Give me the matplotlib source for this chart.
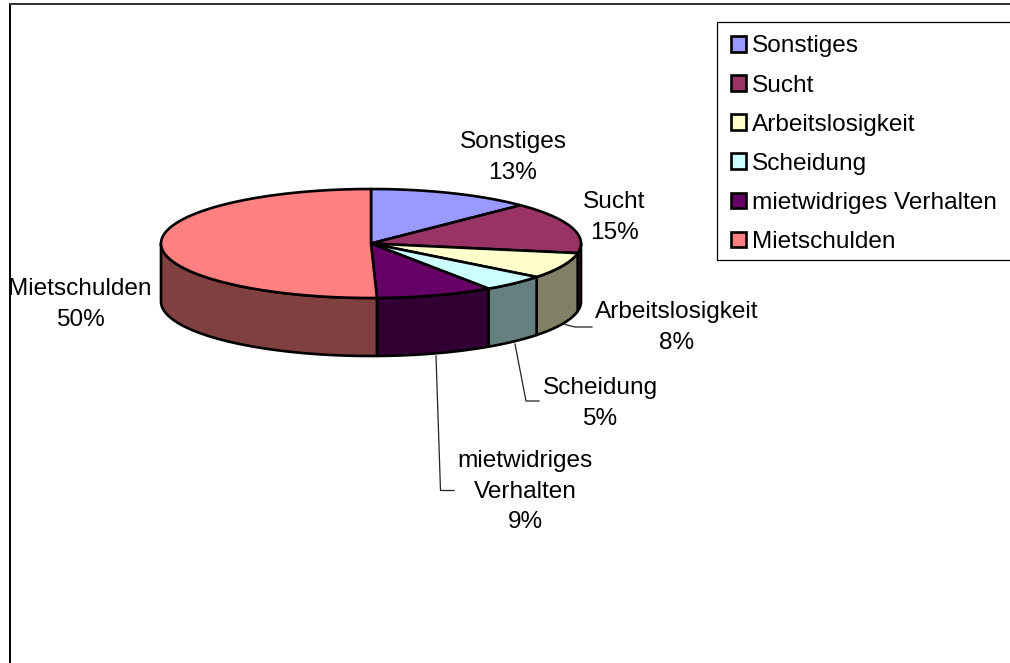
import numpy as np
import matplotlib
matplotlib.use("Agg")
import matplotlib.pyplot as plt
from matplotlib.patches import Polygon, Patch, Rectangle

categories = ["Sonstiges", "Sucht", "Arbeitslosigkeit", "Scheidung", "mietwidriges Verhalten", "Mietschulden"]
shares = [12.6, 15.2, 7.7, 5.0, 9.0, 50.4]
label_texts = ["Sonstiges", "Sucht", "Arbeitslosigkeit", "Scheidung", "mietwidriges\nVerhalten", "Mietschulden"]
colors = ["#9999FF", "#993366", "#FFFFCC", "#CCFFFF", "#660066", "#FF8080"]
side_colors = ["#4D4D80", "#4D1A33", "#808066", "#668080", "#330033", "#804040"]

plt.rcParams["font.family"] = ["Liberation Sans", "DejaVu Sans"]
FS = 17.6
W, H = 1010, 663
fig = plt.figure(figsize=(W / 100, H / 100), dpi=100, facecolor="white")
ax = fig.add_axes([0, 0, 1, 1])
ax.set_xlim(0, W)
ax.set_ylim(H, 0)
ax.axis("off")

# chart frame
ax.plot([9.5, 9.5], [H, 3.5], color="black", lw=1.4, solid_capstyle="butt")
ax.plot([9, W], [3.5, 3.5], color="#303030", lw=1.4, solid_capstyle="butt")

cx, cy, rx, ry, depth = 371, 243.5, 210, 54.5, 58
LW = 1.9


def pt(theta):
    t = np.radians(theta)
    return cx + rx * np.sin(t), cy - ry * np.cos(t)


edges = np.concatenate([[0], np.cumsum(shares)]) / np.sum(shares) * 360

# front sides
for i in range(len(shares)):
    a, b = max(edges[i], 90), min(edges[i + 1], 270)
    if b <= a:
        continue
    th = np.linspace(a, b, 120)
    x, y = pt(th)
    verts = np.r_[np.c_[x, y], np.c_[x[::-1], y[::-1] + depth]]
    ax.add_patch(Polygon(verts, closed=True, facecolor=side_colors[i], edgecolor="black",
                         lw=LW, joinstyle="round", zorder=2))

# top surface
for i in range(len(shares)):
    th = np.linspace(edges[i], edges[i + 1], 200)
    x, y = pt(th)
    verts = np.r_[[[cx, cy]], np.c_[x, y]]
    ax.add_patch(Polygon(verts, closed=True, facecolor=colors[i], edgecolor="black",
                         lw=LW, joinstyle="round", zorder=3))

# leader lines
leaders = [
    ([565, 575, 592], [324.5, 327, 327]),
    ([515, 526, 539], [344, 401, 401]),
    ([436, 440.5, 454], [356, 490.5, 490.5]),
]
for lx, ly in leaders:
    ax.plot(lx, ly, color="#222222", lw=0.9, zorder=1)

# data labels
label_pos = [(513, 157.5), (614, 217.5), (677, 327.5), (600, 403.5), (525, 491.5), (80, 304.5)]
for txt, v, (x, y) in zip(label_texts, shares, label_pos):
    ax.text(x, y, f"{txt}\n{round(v / sum(shares) * 100)}%", ha="center", va="center",
            fontsize=FS, linespacing=1.48, color="black", zorder=5)

# legend
ax.add_patch(Rectangle((716.5, 22), 320, 238, facecolor="white", edgecolor="black", lw=0.9, zorder=4))
handles = [Patch(facecolor=c, edgecolor="black", lw=1.9) for c in colors]
leg = ax.legend(handles, categories, loc="upper left",
                bbox_to_anchor=(717.5 / W, 1 - 22 / H), bbox_transform=fig.transFigure,
                fontsize=FS, frameon=False, borderaxespad=0, borderpad=0.55, labelspacing=0.7,
                handlelength=0.6, handleheight=0.6, handletextpad=0.25)
leg.set_zorder(6)

fig.savefig("out.png", dpi=100, facecolor="white")
